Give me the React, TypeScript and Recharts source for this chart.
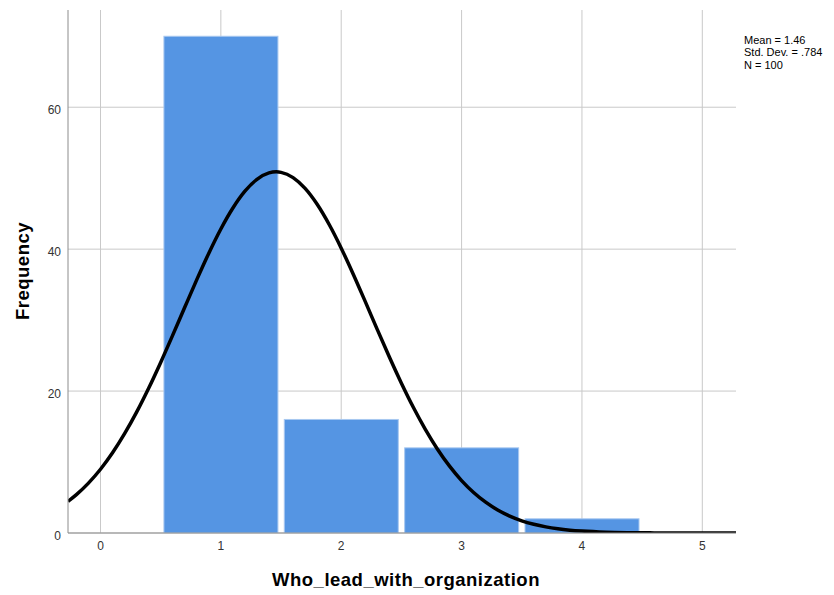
import React from 'react';
import { ComposedChart, Bar, Line, XAxis, YAxis, CartesianGrid } from 'recharts';

const binCenters = [1, 2, 3, 4];
const binCounts = [70, 16, 12, 2];

const curveX = [-0.27, -0.2, -0.1, 0, 0.1, 0.2, 0.3, 0.4, 0.5, 0.6, 0.7, 0.8, 0.9, 1.0, 1.1, 1.2, 1.3, 1.4, 1.46, 1.5, 1.6, 1.7, 1.8, 1.9, 2.0, 2.1, 2.2, 2.3, 2.4, 2.5, 2.6, 2.7, 2.8, 2.9, 3.0, 3.1, 3.2, 3.3, 3.4, 3.5, 3.6, 3.7, 3.8, 3.9, 4.0, 4.2, 4.4, 4.6, 4.8, 5.0, 5.28];
const curveY = [4.46, 5.41, 7.03, 8.98, 11.3, 13.99, 17.03, 20.4, 24.04, 27.88, 31.81, 35.7, 39.43, 42.84, 45.79, 48.16, 49.84, 50.74, 50.89, 50.82, 50.08, 48.56, 46.32, 43.47, 40.14, 36.47, 32.6, 28.66, 24.8, 21.11, 17.68, 14.57, 11.81, 9.42, 7.39, 5.71, 4.34, 3.24, 2.38, 1.72, 1.23, 0.86, 0.59, 0.4, 0.27, 0.11, 0.045, 0.017, 0.006, 0.002, 0.0003];

const xTicks = [0, 1, 2, 3, 4, 5];
const yTicks = [0, 20, 40, 60];
const statsLines = ['Mean = 1.46', 'Std. Dev. = .784', 'N = 100'];
const xTitle = 'Who_lead_with_organization';
const yTitle = 'Frequency';

// Merge bar rows and curve rows into one table sorted by x
const chartData = [
  ...binCenters.map((x, i) => ({ x, count: binCounts[i] as number | undefined, y: undefined as number | undefined })),
  ...curveX.map((x, i) => ({ x, count: undefined as number | undefined, y: curveY[i] as number | undefined })),
].sort((a, b) => a.x - b.x);

const FONT = '"Liberation Sans", Arial, sans-serif';
const BAR_PIXEL_WIDTH = 114;

const YTick = (props: any) => {
  const { x, y, payload } = props;
  return (
    <text x={x} y={y + 2.5} dy="0.355em" textAnchor="end" fill="#333" fontSize={12} fontFamily={FONT}>
      {payload.value}
    </text>
  );
};

const HistBar = (props: any) => {
  const { x, y, width, height } = props;
  if (!height || height <= 0) return null;
  const cx = x + width / 2;
  return (
    <rect
      x={cx - BAR_PIXEL_WIDTH / 2}
      y={y}
      width={BAR_PIXEL_WIDTH}
      height={height}
      fill="#5595e3"
      stroke="#a8c8f0"
      strokeWidth={1}
    />
  );
};

export default function App() {
  return (
    <div style={{ position: 'absolute', left: 0, top: 0, width: 834, height: 595, background: '#fff', fontFamily: FONT }}>
      <ComposedChart width={834} height={595} data={chartData} margin={{ top: 10, right: 98, bottom: 0, left: 0 }}>
        <CartesianGrid stroke="#c9c9c9" strokeWidth={1} syncWithTicks />
        <XAxis
          type="number"
          dataKey="x"
          domain={[-0.27, 5.28]}
          allowDataOverflow
          ticks={xTicks}
          height={62}
          tickLine={false}
          tickSize={5}
          tickMargin={3}
          stroke="#8c8c8c"
          tick={{ fill: '#333', fontSize: 12, fontFamily: FONT }}
        />
        <YAxis
          type="number"
          domain={[0, 73.7]}
          allowDataOverflow
          ticks={yTicks}
          width={68}
          tickLine={false}
          tickSize={5}
          tickMargin={2}
          stroke="#8c8c8c"
          tick={<YTick />}
        />
        <Bar dataKey="count" shape={<HistBar />} isAnimationActive={false} />
        <Line dataKey="y" type="monotone" connectNulls stroke="#000" strokeWidth={3.5} dot={false} activeDot={false} isAnimationActive={false} />
      </ComposedChart>
      <div style={{ position: 'absolute', left: 744, top: 34, fontSize: 11, lineHeight: '12.4px', color: '#000', whiteSpace: 'nowrap' }}>
        {statsLines.map((s) => (
          <div key={s}>{s}</div>
        ))}
      </div>
      <div style={{ position: 'absolute', left: 106, width: 600, top: 569, textAlign: 'center', fontSize: 18.5, letterSpacing: 0.5, fontWeight: 'bold', color: '#000', whiteSpace: 'nowrap' }}>
        {xTitle}
      </div>
      <div style={{ position: 'absolute', left: 23, top: 271, width: 0, height: 0 }}>
        <div style={{ position: 'absolute', left: -100, top: -11, width: 200, textAlign: 'center', fontSize: 18.5, letterSpacing: 0.5, fontWeight: 'bold', color: '#000', transform: 'rotate(-90deg)', whiteSpace: 'nowrap' }}>
          {yTitle}
        </div>
      </div>
    </div>
  );
}
